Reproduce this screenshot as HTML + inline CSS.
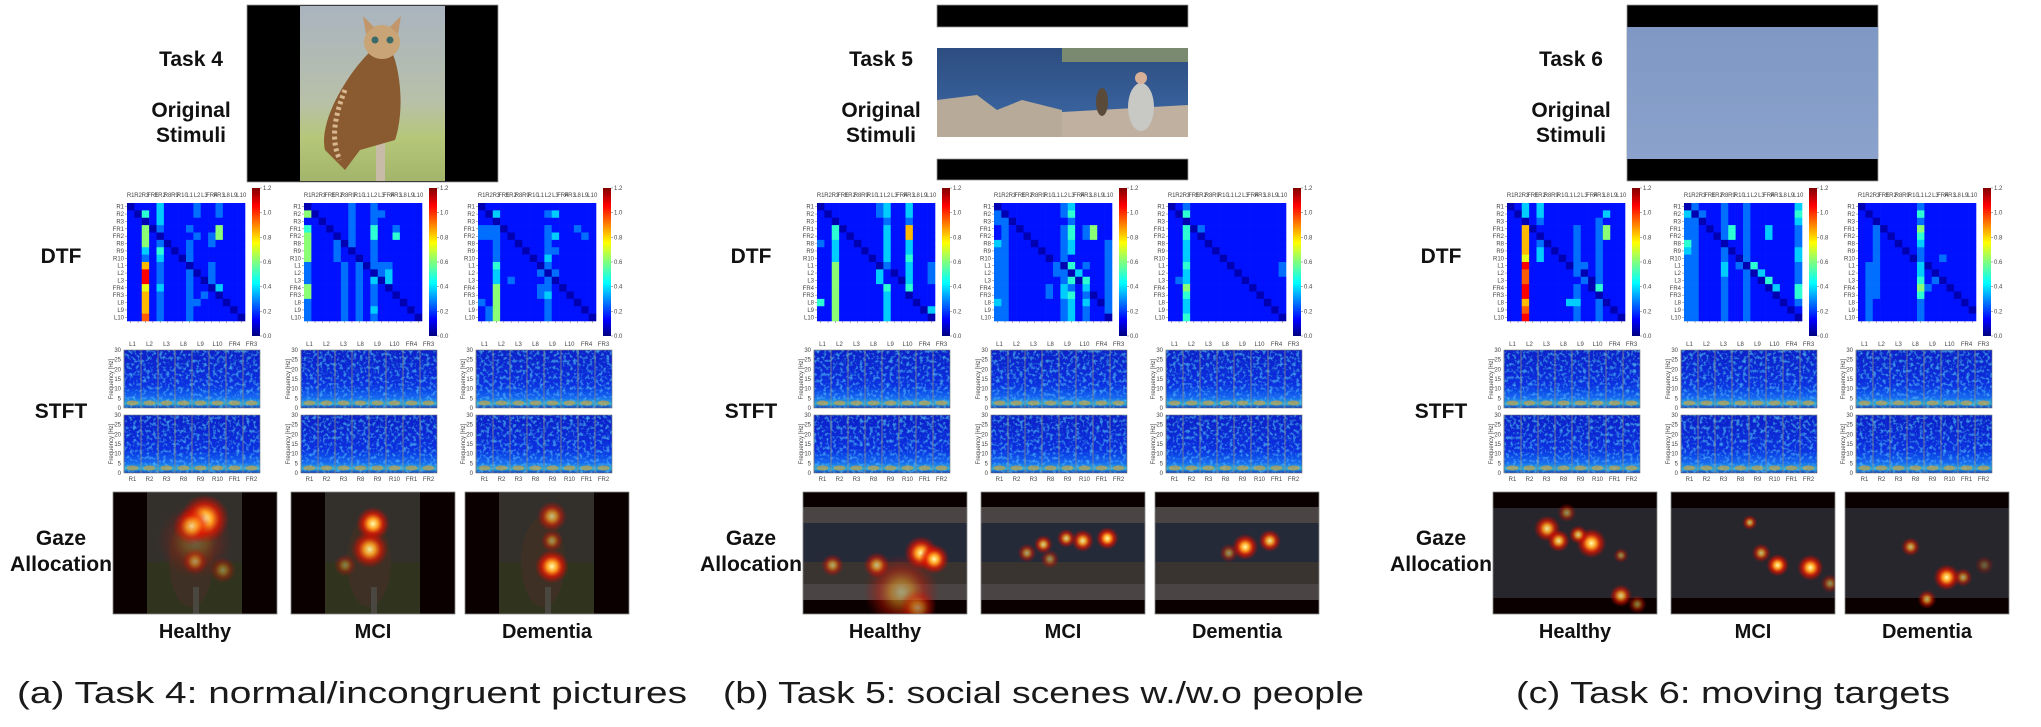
<!DOCTYPE html>
<html><head><meta charset="utf-8">
<style>
html,body{margin:0;padding:0;background:#fff;}
svg{display:block;}
.lbl{font-family:"Liberation Sans",Arial,sans-serif;font-weight:bold;fill:#111;}
.tk{font-family:"Liberation Sans",Arial,sans-serif;font-size:6px;fill:#444;}
.cap{font-family:"Liberation Sans","DejaVu Sans",sans-serif;fill:#1a1a1a;}
</style></head>
<body>
<svg id="fig" width="2041" height="727" viewBox="0 0 2041 727" xmlns="http://www.w3.org/2000/svg">
<defs>
<linearGradient id="jet" x1="0" y1="1" x2="0" y2="0">
<stop offset="0" stop-color="#000080"/><stop offset="0.11" stop-color="#0000ff"/><stop offset="0.36" stop-color="#00ffff"/><stop offset="0.5" stop-color="#7fff7f"/><stop offset="0.63" stop-color="#ffff00"/><stop offset="0.88" stop-color="#ff0000"/><stop offset="1" stop-color="#800000"/>
</linearGradient>
<linearGradient id="stftg" x1="0" y1="0" x2="0" y2="1">
<stop offset="0" stop-color="#0820c8"/><stop offset="0.6" stop-color="#0b30e0"/><stop offset="0.82" stop-color="#1466f0"/><stop offset="0.93" stop-color="#30b0d0"/><stop offset="1" stop-color="#1030c0"/>
</linearGradient>
<radialGradient id="blob">
<stop offset="0" stop-color="#ffffb0"/><stop offset="0.3" stop-color="#ffa020"/><stop offset="0.6" stop-color="#e81800" stop-opacity="0.75"/><stop offset="1" stop-color="#c00000" stop-opacity="0"/>
</radialGradient>
<linearGradient id="owlbg" x1="0" y1="0" x2="0" y2="1">
<stop offset="0" stop-color="#a9b4c0"/><stop offset="0.55" stop-color="#b8c0a8"/><stop offset="0.75" stop-color="#b6c77a"/><stop offset="1" stop-color="#a3b56a"/>
</linearGradient>
<linearGradient id="sea" x1="0" y1="0" x2="0" y2="1">
<stop offset="0" stop-color="#2d4d80"/><stop offset="1" stop-color="#3d6aa8"/>
</linearGradient>
<linearGradient id="sky" x1="0" y1="0" x2="0" y2="1">
<stop offset="0" stop-color="#7f98c4"/><stop offset="1" stop-color="#8aa2cc"/>
</linearGradient>
<filter id="noise" x="0" y="0" width="1" height="1">
<feTurbulence type="fractalNoise" baseFrequency="0.3" numOctaves="2" seed="3" result="t"/>
<feColorMatrix in="t" type="matrix" values="0 0 0 0 0.1  0 0 0 0 0.6  0 0 0 0 1  0 0 0 1.6 -0.8" result="c"/>
<feComposite in="c" in2="SourceGraphic" operator="in" result="m"/>
<feMerge><feMergeNode in="SourceGraphic"/><feMergeNode in="m"/></feMerge>
</filter>
</defs>
</svg>
<script>
// ---- data ----
const channels = ["R1","R2","R3","FR1","FR2","R8","R9","R10","L1","L2","L3","FR4","FR3","L8","L9","L10"];
const stftTop = ["L1","L2","L3","L8","L9","L10","FR4","FR3"];
const stftBottom = ["R1","R2","R3","R8","R9","R10","FR1","FR2"];
const cbTicks = [0.0,0.2,0.4,0.6,0.8,1.0,1.2];
const groups = ["Healthy","MCI","Dementia"];
const captions = ["(a) Task 4: normal/incongruent pictures","(b) Task 5: social scenes w./w.o people","(c) Task 6: moving targets"];
const taskNames = ["Task 4","Task 5","Task 6"];
// DTF matrices: digit d -> value d*0.12
const dtfA1 = ["0111311112112111","1041311112112111","1101311111111111","1150211121115111","1151011112125111","1151201121121111","1131410121111111","1121311021111111","1171211101121111","1191211120121111","1191211121021111","1161311121103111","1171211121210111","1171211122111011","1171211121111101","1181211121111110"];
const dtfA2 = ["0111112112111111","5011112112211111","1101112112111111","4110112114112111","5111012114114111","5111202112111111","5111210112111111","5111211012111111","2111121202221111","2111121210231111","2111121213031111","5111121212101111","5111121212110111","2111121212111011","2111121213111101","2111121212111110"];
const dtfA3 = ["0111111111111111","1031111112311111","1101111111111111","2220111112111211","2221011112311121","1121101112111111","1121110112211111","1121111013111111","1141111102111111","1131111120211111","1131211112011111","1151111122101111","1151111123110111","2151111112111011","1251111112111101","1251111112111110"];
const dtfB1 = ["0111111123113111","1011111123113111","1101111112112111","1140111113117111","1141011113117111","2131101113113111","1131110113113111","1131111013114111","1151111102113112","1151111131013112","1151111131103112","1151111114114111","1151111113110111","4151111113111011","1151111113111103","1151111113111110"];
const dtfB2 = ["0111111112311111","2011111112411111","2201111111211111","1210111112412511","1211011112412511","3211101112311112","2211110112311112","2211111012111112","2211111120412112","2211111122031112","2211111112404112","2211111213213112","2211111213412012","3211111112313102","2211111112312112","2211111112312110"];
const dtfB3 = ["0121111111111111","1041111111111111","1101111111111111","1140211111111111","1141011111111111","1131101111111111","1131110111111111","1131111011111111","1141111101111112","1131111110111112","1231111111011111","1151111111101111","1141111111110111","1131111111111011","1131111111111101","1141111111111110"];
const dtfC1 = ["0131311111111111","1031311111111311","1101211111112111","1170111112112511","1171011112112511","1171201112112111","1171310112112111","1161311012112111","1191111102212111","1181111112012111","1181111111202111","1191111112104111","1191111112110111","1171111133112011","1181111112112101","1191111112112110"];
const dtfC2 = ["0211121121111113","3021121121111114","2201121121111113","2210124121131112","2211024121131112","4211101121111112","3211120121111113","2211121021111113","2211131204111112","2211131120311112","2211121121041112","2211121121103114","2211121121110114","2211121121111012","2211121121111101","2211121121111110"];
const dtfC3 = ["0111111121111111","1011111141111111","1101111121111111","1120111151111111","1121011141111111","1121101131111111","1121110121111111","1121111021121111","1221111130111111","1221111131011111","1221111141201111","1221111152110111","1221111141111011","1211111121111101","1211111121111110","1211111121111111"];
// gaze fixation blobs: [x frac, y frac, radius frac, intensity]
const gazeA1 = [[0.5,0.4,0.2,0.25],[0.56,0.22,0.13,1],[0.48,0.28,0.1,0.8],[0.5,0.57,0.07,0.5],[0.67,0.64,0.07,0.4]];
const gazeA2 = [[0.5,0.26,0.09,1],[0.48,0.47,0.1,0.9],[0.33,0.6,0.06,0.4]];
const gazeA3 = [[0.53,0.2,0.08,0.7],[0.53,0.4,0.06,0.5],[0.53,0.61,0.09,1]];
const gazeB1 = [[0.6,0.82,0.2,0.5],[0.72,0.5,0.09,1],[0.8,0.55,0.08,1],[0.45,0.6,0.07,0.7],[0.18,0.6,0.06,0.6],[0.7,0.95,0.1,0.5]];
const gazeB2 = [[0.77,0.38,0.06,1],[0.62,0.4,0.06,0.9],[0.52,0.38,0.05,0.8],[0.38,0.43,0.05,0.8],[0.28,0.5,0.05,0.6],[0.42,0.55,0.05,0.5]];
const gazeB3 = [[0.55,0.45,0.07,1],[0.7,0.4,0.06,0.9],[0.45,0.5,0.05,0.5]];
const gazeC1 = [[0.33,0.3,0.07,0.9],[0.4,0.4,0.06,0.9],[0.6,0.42,0.08,1],[0.52,0.35,0.05,0.8],[0.45,0.17,0.05,0.5],[0.78,0.85,0.06,0.8],[0.88,0.92,0.05,0.5],[0.78,0.52,0.04,0.5]];
const gazeC2 = [[0.65,0.6,0.06,1],[0.85,0.62,0.07,1],[0.55,0.5,0.05,0.7],[0.48,0.25,0.04,0.7],[0.97,0.75,0.05,0.5]];
const gazeC3 = [[0.62,0.7,0.07,1],[0.72,0.7,0.05,0.6],[0.4,0.45,0.05,0.7],[0.5,0.88,0.05,0.7],[0.85,0.6,0.05,0.3]];

const dtfs = [[dtfA1,dtfA2,dtfA3],[dtfB1,dtfB2,dtfB3],[dtfC1,dtfC2,dtfC3]];
const gazes = [[gazeA1,gazeA2,gazeA3],[gazeB1,gazeB2,gazeB3],[gazeC1,gazeC2,gazeC3]];

// ---- helpers ----
const NS = "http://www.w3.org/2000/svg";
const svg = document.getElementById("fig");
const defs = svg.querySelector("defs");
function mk(tag, attrs, parent, text){
  const e = document.createElementNS(NS, tag);
  for (const k in attrs) e.setAttribute(k, attrs[k]);
  if (text !== undefined) e.textContent = text;
  (parent || svg).appendChild(e);
  return e;
}
function jet(t){
  t = Math.max(0, Math.min(1, t));
  const c = v => Math.round(255 * Math.max(0, Math.min(1, v)));
  return "rgb(" + c(1.5 - Math.abs(4*t - 3)) + "," + c(1.5 - Math.abs(4*t - 2)) + "," + c(1.5 - Math.abs(4*t - 1)) + ")";
}
const vScale = v => v / 1.2;

const matX = [127, 304, 478], matY = 203, matS = 118;
const stX = [124, 301, 476], stW = 136;
const gzX = [113, 291, 465], gzY = 492, gzW = 164, gzH = 122;
const capX = [[17,670],[723,641],[1516,434]];

for (let p = 0; p < 3; p++){
  const ox = p * 690;
  const pg = mk("g", {});
  
  

  const t1 = mk("text", {x: ox+191, y: 66, "text-anchor":"middle", "font-size":21, class:"lbl"}, pg, taskNames[p]);
  
  
  const t2 = mk("text", {x: ox+191, y: 117, "text-anchor":"middle", "font-size":21, class:"lbl"}, pg, "Original");
  
  
  mk("text", {x: ox+191, y: 142, "text-anchor":"middle", "font-size":21, class:"lbl"}, pg, "Stimuli");
  const t3 = mk("text", {x: ox+61, y: 263, "text-anchor":"middle", "font-size":21, class:"lbl"}, pg, "DTF");
  
  
  const t4 = mk("text", {x: ox+61, y: 418, "text-anchor":"middle", "font-size":21, class:"lbl"}, pg, "STFT");
  
  
  const t5 = mk("text", {x: ox+61, y: 545, "text-anchor":"middle", "font-size":21, class:"lbl"}, pg, "Gaze");
  
  
  mk("text", {x: ox+61, y: 571, "text-anchor":"middle", "font-size":21, class:"lbl", textLength:102, lengthAdjust:"spacingAndGlyphs"}, pg, "Allocation");

  // stimulus image
  const st = mk("g", {}, pg);
  
  
  const sx = ox + 247, sw = 251;
  if (p === 0){
    mk("rect", {x:sx, y:5, width:sw, height:177, fill:"#000", stroke:"#999", "stroke-width":0.8}, st);
    mk("rect", {x:ox+300, y:6, width:145, height:175, fill:"url(#owlbg)"}, st);
    mk("rect", {x:ox+376, y:130, width:9, height:51, fill:"#c8bca8"}, st);
    mk("path", {d:"M"+(ox+372)+",50 C"+(ox+350)+",70 "+(ox+318)+",120 "+(ox+325)+",150 L"+(ox+345)+",170 L"+(ox+360)+",150 L"+(ox+395)+",140 C"+(ox+405)+",110 "+(ox+400)+",70 "+(ox+392)+",52 Z", fill:"#8a5a30"}, st);
    mk("path", {d:"M"+(ox+345)+",90 C"+(ox+335)+",115 "+(ox+330)+",140 "+(ox+340)+",160", stroke:"#d8b890", "stroke-width":5, fill:"none", "stroke-dasharray":"3 3"}, st);
    mk("ellipse", {cx:ox+382, cy:42, rx:18, ry:17, fill:"#c9a476"}, st);
    mk("path", {d:"M"+(ox+366)+",34 L"+(ox+363)+",16 L"+(ox+374)+",27 Z M"+(ox+398)+",34 L"+(ox+401)+",16 L"+(ox+390)+",27 Z", fill:"#c0966a"}, st);
    mk("circle", {cx:ox+375, cy:40, r:3.5, fill:"#3a6a6a"}, st);
    mk("circle", {cx:ox+390, cy:40, r:3.5, fill:"#3a6a6a"}, st);
  } else if (p === 1){
    mk("rect", {x:sx, y:5, width:sw, height:22, fill:"#000", stroke:"#999", "stroke-width":0.8}, st);
    mk("rect", {x:sx, y:48, width:sw, height:89, fill:"url(#sea)"}, st);
    mk("path", {d:"M"+sx+",100 L"+(sx+40)+",95 L"+(sx+60)+",110 L"+(sx+85)+",100 L"+(sx+125)+",110 L"+(sx+125)+",137 L"+sx+",137 Z", fill:"#b8aa98"}, st);
    mk("rect", {x:sx+125, y:48, width:126, height:14, fill:"#7a8a70"}, st);
    mk("path", {d:"M"+(sx+125)+",112 L"+(sx+251)+",105 L"+(sx+251)+",137 L"+(sx+125)+",137 Z", fill:"#c0b0a0"}, st);
    mk("ellipse", {cx:sx+165, cy:102, rx:6, ry:14, fill:"#5a4a3a"}, st);
    mk("ellipse", {cx:sx+204, cy:107, rx:13, ry:24, fill:"#c8c8c4"}, st);
    mk("circle", {cx:sx+204, cy:78, r:6, fill:"#d8b098"}, st);
    mk("rect", {x:sx, y:159, width:sw, height:21, fill:"#000", stroke:"#999", "stroke-width":0.8}, st);
  } else {
    mk("rect", {x:sx, y:5, width:sw, height:176, fill:"#000", stroke:"#999", "stroke-width":0.8}, st);
    mk("rect", {x:sx, y:27, width:sw, height:132, fill:"url(#sky)"}, st);
    mk("path", {d:"M"+(ox+697)+",85 L"+(ox+707)+",85 M"+(ox+701)+",81 L"+(ox+703)+",89", stroke:"#ddd", "stroke-width":1.6}, st);
  }

  for (let g = 0; g < 3; g++){
    const mx = ox + matX[g];
    const mg = mk("g", {}, pg);
    
    
    const data = dtfs[p][g];
    const cs = matS / channels.length;
    for (let r = 0; r < channels.length; r++){
      const row = data[r];
      for (let c = 0; c < channels.length; c++){
        const d = parseInt(row[c] || "1", 10);
        const v = d * 0.12;
        const cell = mk("rect", {x: mx + c*cs, y: matY + r*cs, width: cs+0.3, height: cs+0.3, fill: jet(vScale(v) * 0.92 + 0.05)}, mg);
        
        
      }
      mk("text", {x: mx-3, y: matY + r*cs + cs*0.5 + 2, "text-anchor":"end", class:"tk", "font-size":5.5}, mg, channels[r]);
      mk("line", {x1: mx-2, x2: mx, y1: matY + r*cs + cs/2, y2: matY + r*cs + cs/2, stroke:"#666", "stroke-width":0.5}, mg);
    }
    for (let c = 0; c < channels.length; c++){
      mk("text", {x: mx + c*cs + cs/2, y: 197, "text-anchor":"middle", class:"tk", "font-size":5.5}, mg, channels[c]);
      mk("line", {x1: mx + c*cs + cs/2, x2: mx + c*cs + cs/2, y1: matY+matS, y2: matY+matS+2, stroke:"#666", "stroke-width":0.5}, mg);
    }
    const cb = mk("g", {}, pg);
    
    
    const cbx = mx + 125, cby0 = 188, cbh = 148;
    mk("rect", {x: cbx, y: cby0, width: 8, height: cbh, fill: "url(#jet)"}, cb);
    cbTicks.forEach(t => {
      const y = cby0 + cbh - vScale(t) * cbh;
      mk("line", {x1: cbx+8, x2: cbx+10, y1: y, y2: y, stroke:"#666", "stroke-width":0.5}, cb);
      mk("text", {x: cbx+11, y: y+2, class:"tk"}, cb, t.toFixed(1));
    });

    const sxx = ox + stX[g];
    const sg = mk("g", {}, pg);
    
    
    [[350, stftTop, true],[415, stftBottom, false]].forEach(([ry, labs, top]) => {
      const sw2 = stW / labs.length;
      mk("rect", {x: sxx, y: ry, width: stW, height: 58, fill: "url(#stftg)", filter:"url(#noise)"}, sg);
      labs.forEach((lb, i) => {
        mk("ellipse", {cx: sxx + i*sw2 + sw2/2, cy: ry+53, rx: sw2*0.35, ry: 2.5, fill:"#f0a020", opacity:0.55}, sg);
        mk("line", {x1: sxx + i*sw2, x2: sxx + i*sw2, y1: ry, y2: ry+58, stroke:"#8a8a8a", "stroke-width":0.8}, sg);
        mk("text", {x: sxx + i*sw2 + sw2/2, y: top ? ry-4 : ry+66, "text-anchor":"middle", class:"tk"}, sg, lb);
      });
      mk("rect", {x: sxx, y: ry, width: stW, height: 58, fill:"none", stroke:"#777", "stroke-width":0.6}, sg);
      [0,5,10,15,20,25,30].forEach(f => {
        mk("text", {x: sxx-3, y: ry + 58 - f/30*58 + 2, "text-anchor":"end", class:"tk", "font-size":4}, sg, String(f));
      });
      mk("text", {x: 0, y: 0, class:"tk", "font-size":4.5, "text-anchor":"middle", transform: "translate(" + (sxx-11) + "," + (ry+29) + ") rotate(-90)"}, sg, "Frequency [Hz]");
    });

    const gx = ox + gzX[g];
    const cid = "gclip" + p + g;
    const cp = mk("clipPath", {id: cid}, defs);
    mk("rect", {x: gx, y: gzY, width: gzW, height: gzH}, cp);
    const gg = mk("g", {"clip-path": "url(#" + cid + ")"}, pg);
    
    
    mk("rect", {x: gx, y: gzY, width: gzW, height: gzH, fill: "#0a0000"}, gg);
    if (p === 0){
      mk("rect", {x: gx+34, y: gzY, width: 95, height: gzH, fill: "#33302c"}, gg);
      mk("rect", {x: gx+34, y: gzY+70, width: 95, height: 52, fill: "#30341e"}, gg);
      mk("ellipse", {cx: gx+78, cy: gzY+70, rx: 22, ry: 45, fill: "#3e3024"}, gg);
      mk("rect", {x: gx+80, y: gzY+95, width: 6, height: 27, fill: "#4a4640"}, gg);
    } else if (p === 1){
      mk("rect", {x: gx, y: gzY+15, width: gzW, height: 16, fill: "#4a4444"}, gg);
      mk("rect", {x: gx, y: gzY+31, width: gzW, height: 61, fill: "#252a38"}, gg);
      mk("rect", {x: gx, y: gzY+70, width: gzW, height: 22, fill: "#3a3430"}, gg);
      mk("rect", {x: gx, y: gzY+92, width: gzW, height: 16, fill: "#4a4444"}, gg);
    } else {
      mk("rect", {x: gx, y: gzY+16, width: gzW, height: 90, fill: "#27262c"}, gg);
    }
    gazes[p][g].forEach(b => {
      const blob = mk("circle", {cx: gx + b[0]*gzW, cy: gzY + b[1]*gzH, r: b[2]*gzW*1.15, fill: "url(#blob)", opacity: b[3]}, gg);
      
      
    });
    mk("rect", {x: gx, y: gzY, width: gzW, height: gzH, fill: "none", stroke: "#888", "stroke-width": 0.8}, pg);

    const gl = mk("text", {x: gx + gzW/2, y: 638, "text-anchor":"middle", "font-size":20, class:"lbl"}, pg, groups[g]);
    
    
  }

  const cap = mk("text", {x: capX[p][0], y: 703, "font-size":31, class:"cap", textLength: capX[p][1], lengthAdjust:"spacingAndGlyphs"}, pg, captions[p]);
  
  
}
</script>
</body></html>
